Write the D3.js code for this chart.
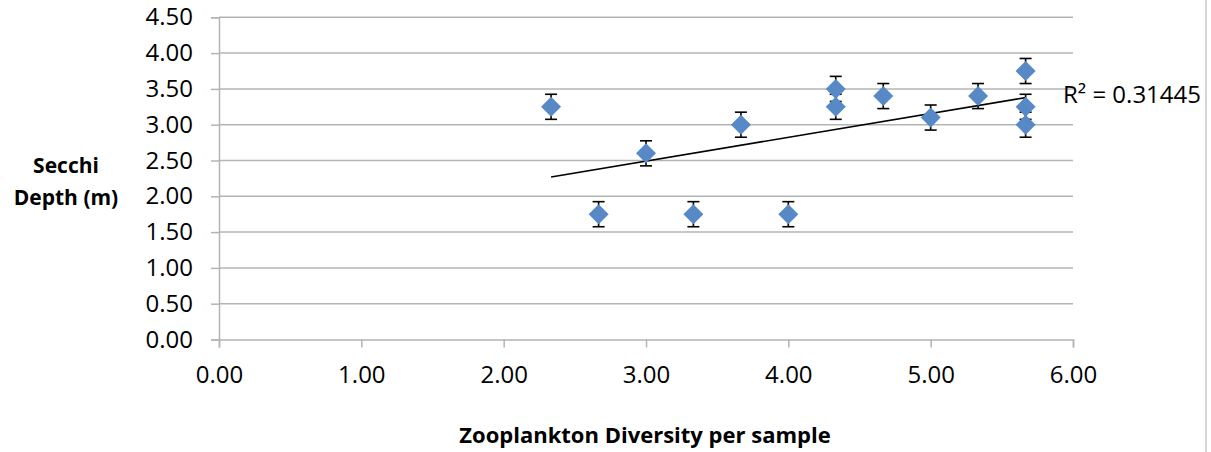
<!DOCTYPE html>
<html>
<head>
<meta charset="utf-8">
<script src="https://cdn.jsdelivr.net/npm/d3@7"></script>
<style>
  body { margin: 0; background: #fff; }
  svg { display: block; font-family: "Open Sans", sans-serif; }
</style>
</head>
<body>
<svg width="1211" height="452"></svg>
<script>
const width = 1211, height = 452;
const svg = d3.select("svg");

// zooplankton diversity (x) vs secchi depth (y)
const diversity = [2.333, 2.667, 3.0, 3.333, 3.667, 4.0, 4.333, 4.333, 4.667, 5.0, 5.333, 5.667, 5.667, 5.667];
const secchi    = [3.25, 1.75, 2.60, 1.75, 3.00, 1.75, 3.50, 3.25, 3.40, 3.10, 3.40, 3.75, 3.25, 3.00];
const errorBar = 0.175;
const xTicks = [0, 1, 2, 3, 4, 5, 6];
const yTicks = [0, 0.5, 1, 1.5, 2, 2.5, 3, 3.5, 4, 4.5];
const r2Label = "R² = 0.31445";

const points = diversity.map((d, i) => ({ x: d, y: secchi[i] }));

const x = d3.scaleLinear().domain([0, 6]).range([219, 1073]);
const y = d3.scaleLinear().domain([0, 4.5]).range([339.5, 17.3]);

const gridColor = "#b4b4b4";

// gridlines
svg.append("g")
  .selectAll("line")
  .data(yTicks.filter(d => d > 0))
  .join("line")
  .attr("x1", x(0)).attr("x2", x(6))
  .attr("y1", d => y(d)).attr("y2", d => y(d))
  .attr("stroke", gridColor).attr("stroke-width", 1.5);

// y axis
const yAxis = svg.append("g")
  .attr("transform", `translate(${x(0)},0)`)
  .call(d3.axisLeft(y).tickValues(yTicks).tickFormat(d3.format(".2f")).tickSize(8).tickPadding(18));
yAxis.select(".domain").attr("stroke", gridColor).attr("stroke-width", 1.5);
yAxis.selectAll(".tick line").attr("stroke", gridColor).attr("stroke-width", 1.5);
yAxis.selectAll("text").attr("font-size", 24).attr("fill", "#000")
  .attr("font-family", "Open Sans, sans-serif");

// x axis
const xAxis = svg.append("g")
  .attr("transform", `translate(0,${y(0)})`)
  .call(d3.axisBottom(x).tickValues(xTicks).tickFormat(d3.format(".2f")).tickSize(8).tickPadding(18));
xAxis.select(".domain").attr("stroke", gridColor).attr("stroke-width", 1.5);
xAxis.selectAll(".tick line").attr("stroke", gridColor).attr("stroke-width", 1.5);
xAxis.selectAll("text").attr("font-size", 24).attr("fill", "#000")
  .attr("font-family", "Open Sans, sans-serif");

// linear trendline (least squares)
const mx = d3.mean(points, d => d.x), my = d3.mean(points, d => d.y);
const slope = d3.sum(points, d => (d.x - mx) * (d.y - my)) / d3.sum(points, d => (d.x - mx) ** 2);
const icept = my - slope * mx;
const [x0, x1] = d3.extent(diversity);
svg.append("line")
  .attr("x1", x(x0)).attr("y1", y(icept + slope * x0))
  .attr("x2", x(x1)).attr("y2", y(icept + slope * x1))
  .attr("stroke", "#000").attr("stroke-width", 1.6);

// error bars
const eb = svg.append("g").attr("stroke", "#000").attr("stroke-width", 1.6);
points.forEach(p => {
  const top = y(p.y + errorBar), bot = y(p.y - errorBar);
  eb.append("line").attr("x1", x(p.x)).attr("x2", x(p.x)).attr("y1", top).attr("y2", bot);
  eb.append("line").attr("x1", x(p.x) - 6).attr("x2", x(p.x) + 6).attr("y1", top).attr("y2", top);
  eb.append("line").attr("x1", x(p.x) - 6).attr("x2", x(p.x) + 6).attr("y1", bot).attr("y2", bot);
});

// diamond markers
svg.append("g")
  .selectAll("path")
  .data(points)
  .join("path")
  .attr("transform", d => `translate(${x(d.x)},${y(d.y)})`)
  .attr("d", "M0,-10L10,0L0,10L-10,0Z")
  .attr("fill", "#5689c5");

// R² label
svg.append("text")
  .attr("x", 1063).attr("y", 103)
  .attr("font-size", 24)
  .text(r2Label);

// axis titles
const yt = svg.append("text")
  .attr("text-anchor", "middle")
  .attr("font-weight", "bold")
  .attr("font-size", 21);
yt.append("tspan").attr("x", 66).attr("y", 173).text("Secchi");
yt.append("tspan").attr("x", 66).attr("y", 205).text("Depth (m)");

svg.append("text")
  .attr("x", 645).attr("y", 443)
  .attr("text-anchor", "middle")
  .attr("font-weight", "bold")
  .attr("font-size", 22)
  .text("Zooplankton Diversity per sample");

// chart frame edge on the right
svg.append("line")
  .attr("x1", 1206).attr("x2", 1206).attr("y1", 0).attr("y2", height)
  .attr("stroke", "#c8c8c8").attr("stroke-width", 1.5);
</script>
</body>
</html>
